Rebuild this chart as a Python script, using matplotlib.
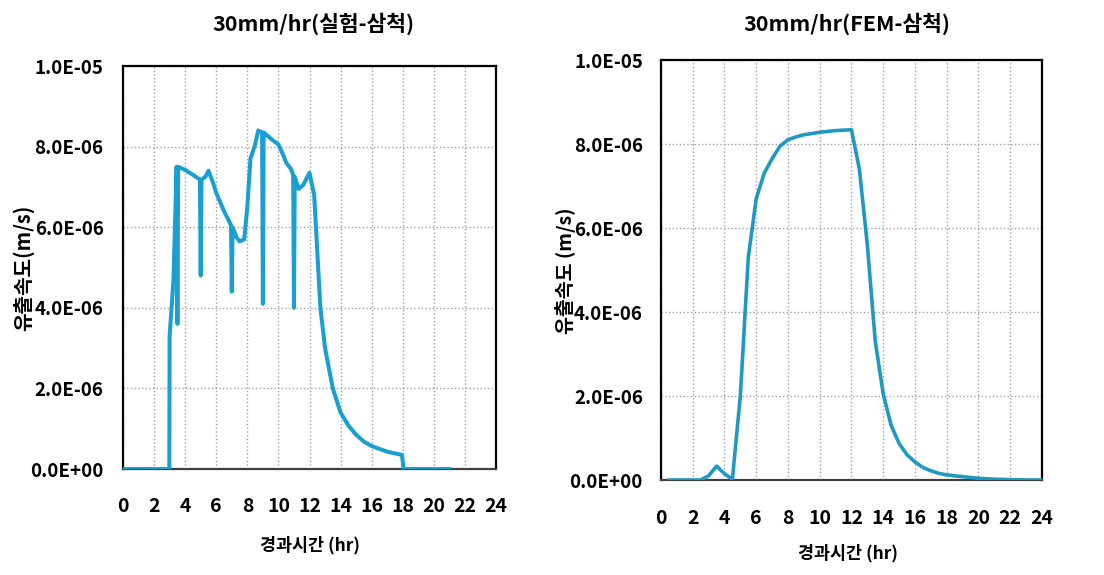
import matplotlib
matplotlib.use('Agg')
import matplotlib.pyplot as plt

plt.rcParams['font.family'] = ['Noto Sans CJK KR', 'DejaVu Sans']
plt.rcParams['font.weight'] = 'bold'

# 실험 데이터 (hr, x1E-6 m/s)
exp_t = [0, 2.98, 3.0, 3.25, 3.45, 3.5, 3.55, 4.0, 4.5, 4.95, 5.0, 5.05, 5.3, 5.5, 5.8, 6.0,
         6.5, 6.95, 7.0, 7.05, 7.3, 7.5, 7.8, 8.0, 8.2, 8.5, 8.7, 8.95, 9.0, 9.05, 9.5, 10.0,
         10.3, 10.5, 10.8, 10.95, 11.0, 11.05, 11.3, 11.6, 12.0, 12.3, 12.7, 13.0, 13.5, 14.0,
         14.5, 15.0, 15.5, 16.0, 17.0, 17.95, 18.05, 21.0]
exp_v = [0, 0, 3.3, 4.7, 7.5, 3.6, 7.5, 7.42, 7.3, 7.18, 4.8, 7.18, 7.25, 7.4, 7.1, 6.85,
         6.4, 6.05, 4.4, 6.0, 5.75, 5.65, 5.7, 6.5, 7.7, 8.05, 8.4, 8.35, 4.1, 8.35, 8.2, 8.05,
         7.8, 7.6, 7.45, 7.3, 4.0, 7.25, 6.95, 7.05, 7.35, 6.8, 4.0, 3.0, 2.0, 1.4,
         1.08, 0.85, 0.68, 0.57, 0.43, 0.35, 0.0, 0]

# FEM 해석 결과
fem_t = [0.5, 1, 1.5, 2, 2.5, 3, 3.5, 4, 4.5, 5, 5.5, 6, 6.5, 7, 7.5, 8, 8.5, 9, 9.5, 10,
         10.5, 11, 11.5, 12, 12.5, 13, 13.5, 14, 14.5, 15, 15.5, 16, 16.5, 17, 17.5, 18,
         18.5, 19, 19.5, 20, 20.5, 21, 22, 23, 24]
fem_v = [0, 0, 0, 0, 0, 0.1, 0.33, 0.15, 0.02, 2.0, 5.3, 6.7, 7.3, 7.65, 7.95, 8.1, 8.17,
         8.22, 8.25, 8.28, 8.3, 8.32, 8.33, 8.34, 7.4, 5.6, 3.3, 2.05, 1.3, 0.87, 0.6, 0.43,
         0.3, 0.22, 0.16, 0.12, 0.1, 0.08, 0.06, 0.04, 0.03, 0.02, 0.01, 0.0, 0]

xticks = list(range(0, 25, 2))
yticks = [0, 2e-6, 4e-6, 6e-6, 8e-6, 1e-5]
ylabels = ['0.0E+00', '2.0E-06', '4.0E-06', '6.0E-06', '8.0E-06', '1.0E-05']

fig = plt.figure(figsize=(11.04, 5.75), dpi=100)
ax1 = fig.add_axes([0.1114, 0.1843, 0.3379, 0.7009])
ax2 = fig.add_axes([0.5987, 0.1652, 0.3451, 0.7304])

ax1.plot(exp_t, [v * 1e-6 for v in exp_v], color='#1a9fd2', linewidth=2.9, zorder=3)
ax2.plot(fem_t, [v * 1e-6 for v in fem_v], color='#1f98c2', linewidth=2.6, zorder=3)

for ax, xpad, ypad in [(ax1, 20, 14), (ax2, 21, 13)]:
    ax.set_xlim(0, 24)
    ax.set_ylim(0, 1e-5)
    ax.set_xticks(xticks)
    ax.set_xticklabels([str(x) for x in xticks], fontsize=14, fontweight='bold')
    ax.set_yticks(yticks)
    ax.set_yticklabels(ylabels, fontsize=13.5, fontweight='bold')
    ax.tick_params(axis='x', length=0, pad=xpad)
    ax.tick_params(axis='y', length=0, pad=ypad)
    ax.grid(True, color='#a0a0a8', linestyle=':', linewidth=1)
    for s in ax.spines.values():
        s.set_linewidth(1.6)
        s.set_color('black')
    ax.spines['bottom'].set_color('#404040')

fig.text(0.284, 0.958, '30mm/hr(실험-삼척)', ha='center', va='center', fontsize=15.5, fontweight='bold')
fig.text(0.767, 0.958, '30mm/hr(FEM-삼척)', ha='center', va='center', fontsize=15.5, fontweight='bold')
fig.text(0.281, 0.052, '경과시간 (hr)', ha='center', va='center', fontsize=12.5, fontweight='bold')
fig.text(0.768, 0.038, '경과시간 (hr)', ha='center', va='center', fontsize=12.5, fontweight='bold')
fig.text(0.021, 0.535, '유출속도(m/s)', ha='center', va='center', rotation=90, fontsize=14.5, fontweight='bold')
fig.text(0.512, 0.530, '유출속도 (m/s)', ha='center', va='center', rotation=90, fontsize=14, fontweight='bold')

plt.savefig('out.png', dpi=100)
